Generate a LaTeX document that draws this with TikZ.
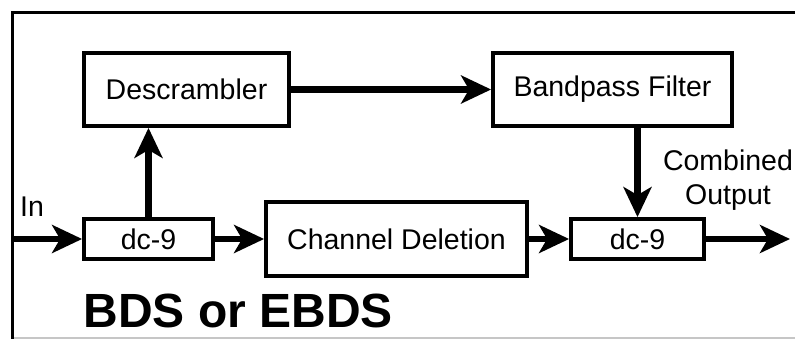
\documentclass[tikz,border=0pt]{standalone}
\usepackage{fontspec}
\setmainfont{Liberation Sans}
\usetikzlibrary{arrows.meta,positioning}
\begin{document}
\begin{tikzpicture}[x=1pt,y=-1pt,
  blk/.style={draw=black,line width=3.8pt,fill=white,inner sep=0pt,
    font=\fontsize{28.5}{33}\selectfont},
  arr/.style={line width=6.5pt,-{Stealth[length=30pt,width=28pt,inset=8pt]}},
  frame/.style={line width=3pt}]
\useasboundingbox (0,0) rectangle (795,339);
% frame
\draw[gray!45,line width=1.5pt] (12,338) -- (795,338);
\draw[frame] (12,339) -- (12,13) -- (795,13);
% blocks
\node[blk,minimum width=205pt,minimum height=73pt] (desc) at (186.5,89.5) {Descrambler};
\node[blk,minimum width=239pt,minimum height=73pt] (bpf) at (612.5,89.5) {Bandpass Filter};
\node[blk,minimum width=129pt,minimum height=40pt] (dca) at (148.5,239) {dc-9};
\node[blk,minimum width=261pt,minimum height=74pt] (cd) at (396.5,239) {Channel Deletion};
\node[blk,minimum width=133pt,minimum height=40pt] (dcb) at (637.5,239) {dc-9};
% coordinates
\coordinate (inp) at (12,239);
\coordinate (outp) at (790,239);
% connectors
\draw[arr] (inp) -- (dca.west);
\draw[arr] (dca.east) -- (cd.west);
\draw[arr] (cd.east) -- (dcb.west);
\draw[arr] (dcb.east) -- (outp);
\draw[arr] (dca.north) -- (dca.north |- desc.south);
\draw[arr] (desc.east) -- (bpf.west);
\draw[arr] (dcb.north |- bpf.south) -- (dcb.north);
% labels
\node[font=\fontsize{28.5}{33}\selectfont] (inlbl) at (32,207) {In};
\node[font=\fontsize{28.5}{34}\selectfont,align=center] (comb) at (728,180) {Combined\\Output};
\node[font=\fontsize{48}{56}\selectfont\bfseries,anchor=base west] (title) at (80,327) {BDS or EBDS};
\end{tikzpicture}
\end{document}
